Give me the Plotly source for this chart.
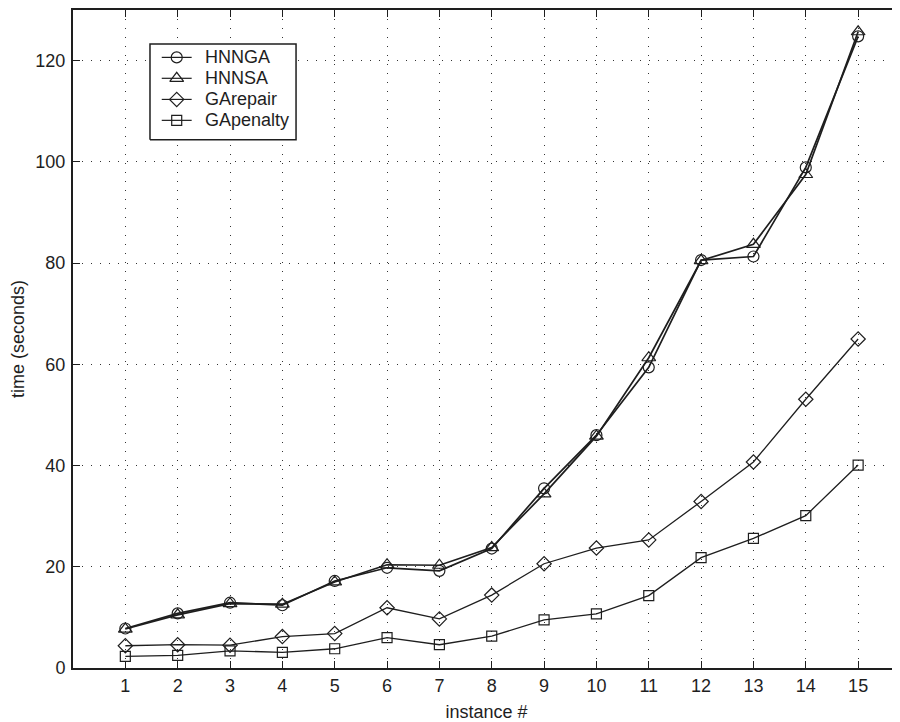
import plotly.graph_objects as go

instances = list(range(1, 16))
hnnga = [7.8, 10.8, 12.9, 12.4, 17.2, 19.8, 19.2, 23.6, 35.5, 46.0, 59.4, 80.6, 81.3, 98.9, 124.8]
hnnsa = [7.7, 10.5, 12.7, 12.6, 17.0, 20.4, 20.3, 23.8, 34.4, 45.8, 61.3, 80.5, 83.7, 97.5, 125.7]
garepair = [4.4, 4.6, 4.5, 6.2, 6.8, 11.9, 9.7, 14.4, 20.6, 23.7, 25.3, 32.9, 40.7, 53.1, 65.0]
gapenalty = [2.3, 2.5, 3.4, 3.1, 3.8, 6.0, 4.6, 6.3, 9.5, 10.7, 14.3, 21.8, 25.6, 30.1, 40.1]
y_ticks = [0, 20, 40, 60, 80, 100, 120]

INK = "#1e1e1e"
FAM = "Liberation Sans, Arial, Helvetica, sans-serif"

series = [
    ("HNNGA", hnnga, "circle-open", 11, 1.7),
    ("HNNSA", hnnsa, "triangle-up-open", 12, 1.7),
    ("GArepair", garepair, "diamond-open", 11, 1.3),
    ("GApenalty", gapenalty, "square-open", 10, 1.3),
]

fig = go.Figure()
for name, vals, sym, sz, lw in series:
    fig.add_trace(go.Scatter(
        x=instances, y=vals, name=name, mode="lines+markers",
        line=dict(color=INK, width=lw),
        marker=dict(symbol=sym, size=sz, color=INK, line=dict(width=1.2, color=INK)),
        showlegend=False,
    ))

# ---- custom legend (drawn on an overlay axis in paper-like units) ----
box_x = [0.0931, 0.2697, 0.2697, 0.0931, 0.0931]
box_y = [0.8030, 0.8030, 0.9485, 0.9485, 0.8030]
fig.add_trace(go.Scatter(
    x=box_x, y=box_y, xaxis="x2", yaxis="y2", mode="lines",
    fill="toself", fillcolor="white", line=dict(color=INK, width=1.5),
    showlegend=False, hoverinfo="skip",
))
entry_y = [0.9280, 0.8962, 0.8641, 0.8323]
lx0, lxm, lx1, tx = 0.1073, 0.1254, 0.1435, 0.1572
annotations = []
for (name, vals, sym, sz, lw), ey in zip(series, entry_y):
    fig.add_trace(go.Scatter(
        x=[lx0, lx1], y=[ey, ey], xaxis="x2", yaxis="y2", mode="lines",
        line=dict(color=INK, width=1.2), showlegend=False, hoverinfo="skip",
    ))
    fig.add_trace(go.Scatter(
        x=[lxm], y=[ey], xaxis="x2", yaxis="y2", mode="markers",
        marker=dict(symbol=sym, size=sz, color=INK, line=dict(width=1.2, color=INK)),
        showlegend=False, hoverinfo="skip",
    ))
    annotations.append(dict(
        x=tx, y=ey, xref="paper", yref="paper", text=name, showarrow=False,
        xanchor="left", yanchor="middle", font=dict(family=FAM, size=18, color=INK),
    ))

fig.update_layout(
    width=892, height=714,
    margin=dict(l=65, r=0, t=0, b=54),
    paper_bgcolor="white", plot_bgcolor="white",
    font=dict(family=FAM, size=18, color=INK),
    showlegend=False,
    annotations=annotations,
    xaxis=dict(
        range=[0, 15.8], tickmode="array", tickvals=instances,
        ticktext=[str(i) for i in instances],
        ticks="inside", ticklen=7, tickcolor=INK, tickwidth=1,
        showline=True, linecolor=INK, linewidth=2, mirror="ticks",
        showgrid=True, gridcolor="#333", gridwidth=1, griddash="1px,8px",
        zeroline=False, ticklabelstandoff=0,
        title=dict(text="instance #", font=dict(family=FAM, size=18), standoff=12),
    ),
    yaxis=dict(
        range=[0, 130], tickmode="array", tickvals=y_ticks,
        ticks="inside", ticklen=7, tickcolor=INK, tickwidth=1,
        showline=True, linecolor=INK, linewidth=2, mirror=False,
        showgrid=True, gridcolor="#333", gridwidth=1, griddash="1px,8px",
        zeroline=False, ticklabelstandoff=2,
        title=dict(text="time (seconds)", font=dict(family=FAM, size=18), standoff=12),
    ),
    xaxis2=dict(overlaying="x", range=[0, 1], visible=False, fixedrange=True),
    yaxis2=dict(overlaying="y", range=[0, 1], visible=False, fixedrange=True),
)

fig.write_html("out.html")
